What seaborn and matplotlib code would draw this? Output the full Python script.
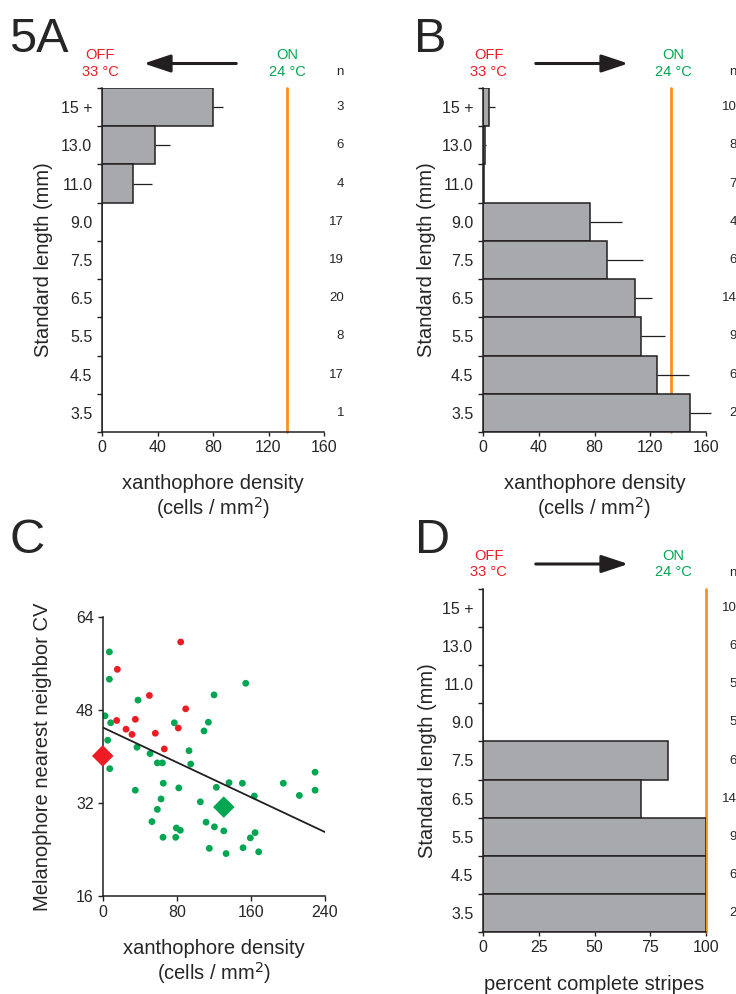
import numpy as np
import pandas as pd
import matplotlib
matplotlib.use('Agg')
import matplotlib.pyplot as plt
import seaborn as sns
from matplotlib.transforms import blended_transform_factory

sns.set_style('ticks')
plt.rcParams['font.family'] = ['Liberation Sans', 'DejaVu Sans']

W, H = 736, 994

# size classes, top to bottom
lengths = ['15 +', '13.0', '11.0', '9.0', '7.5', '6.5', '5.5', '4.5', '3.5']

# A: OFF at 33 C
a_density = [80, 38, 22, 0, 0, 0, 0, 0, 0]
a_err = [7, 11, 14, 0, 0, 0, 0, 0, 0]
a_n = [3, 6, 4, 17, 19, 20, 8, 17, 1]
a_on = 133.5

# B: OFF -> ON
b_density = [4.5, 1.5, 1, 77, 89, 109, 113.5, 125, 148.5]
b_err = [4, 1, 0, 23, 26, 12, 17, 23, 15]
b_n = [10, 8, 7, 4, 6, 14, 9, 6, 2]
b_on = 135

# D: percent complete stripes
d_pct = [0, 0, 0, 0, 83, 71, 100, 100, 100]
d_n = [10, 6, 5, 5, 6, 14, 9, 6, 2]
d_on = 100

# C: scatter
red_x = [15.8, 84.2, 50.4, 89.6, 15.1, 35.2, 25.2, 31.6, 81.6, 56.8, 66.5]
red_y = [55.0, 59.7, 50.5, 48.2, 46.2, 46.4, 44.7, 43.8, 44.9, 44.0, 41.3]
green_x = [7.2, 7.2, 154.4, 38.1, 120.2, 2.5, 8.6, 77.3, 114.1, 109.4, 5.4, 37.0,
           51.1, 93.2, 59.0, 64.4, 95.0, 7.6, 65.4, 35.2, 82.1, 122.7, 136.4, 150.8,
           195.0, 229.3, 229.3, 163.7, 212.3, 63.0, 105.4, 59.0, 53.2, 111.6, 120.6,
           130.7, 79.5, 83.8, 65.1, 78.8, 164.5, 159.4, 115.1, 151.5, 133.2, 168.4]
green_y = [58.0, 53.3, 52.6, 49.7, 50.6, 47.0, 45.8, 45.8, 45.9, 44.4, 42.8, 41.6,
           40.5, 41.0, 38.9, 38.9, 38.7, 37.9, 35.4, 34.2, 34.6, 34.7, 35.5, 35.4,
           35.4, 37.3, 34.2, 33.2, 33.3, 32.7, 32.2, 30.9, 28.8, 28.7, 27.9,
           27.2, 27.7, 27.3, 26.1, 26.1, 26.9, 26.0, 24.2, 24.3, 23.3, 23.6]
mean_x = [0, 130.7]
mean_y = [40.1, 31.3]
mean_group = ['OFF', 'ON']
fit_x = [0, 240]
fit_y = [45.0, 27.0]

GRAY = '#a7a9ac'
DARK = '#231f20'
ORANGE = '#f7941d'
RED = '#ed1c24'
GREEN = '#00a651'

TICK_FS = 11.5
LABEL_FS = 14.5


def frac(x, y):
    return x / W, 1 - y / H


def box(left, top, right, bottom):
    return [left / W, 1 - bottom / H, (right - left) / W, (bottom - top) / H]


def bar_panel(ax, values, err, n, on, xmax, xticks, xlabel, n_x):
    df = pd.DataFrame({'length': lengths, 'value': values})
    sns.barplot(data=df, x='value', y='length', order=lengths, orient='h',
                color=GRAY, saturation=1, edgecolor=DARK, linewidth=1.1,
                width=1, errorbar=None, ax=ax, zorder=2)
    if err is not None:
        ax.errorbar(values, np.arange(len(lengths)),
                    xerr=[np.zeros(len(err)), err], fmt='none',
                    ecolor=DARK, elinewidth=0.9, capsize=0, zorder=3, clip_on=False)
    ax.axvline(on, color=ORANGE, lw=2, zorder=1, clip_on=False)
    ax.set_xlim(0, xmax)
    ax.set_ylim(8.5, -0.5)
    ax.set_xticks(xticks)
    ax.set_yticks(np.arange(9))
    ax.set_yticklabels(lengths)
    ax.set_yticks(np.arange(-0.5, 9, 1), minor=True)
    ax.tick_params(axis='y', which='major', length=0, pad=7, labelsize=TICK_FS)
    ax.tick_params(axis='y', which='minor', length=3.5, width=1, color=DARK)
    ax.tick_params(axis='x', length=3, width=1, color=DARK, labelsize=TICK_FS, pad=3)
    ax.set_xlabel(xlabel, fontsize=LABEL_FS, linespacing=1.1)
    ax.set_ylabel('Standard length (mm)', fontsize=LABEL_FS)
    for s in ['top', 'right']:
        ax.spines[s].set_visible(False)
    for s in ['left', 'bottom']:
        ax.spines[s].set_color(DARK)
        ax.spines[s].set_linewidth(1.1)
    tr = blended_transform_factory(ax.transAxes, ax.transData)
    for i, v in enumerate(n):
        ax.text(n_x, i, str(v), transform=tr, ha='right', va='center', fontsize=9.5)
    ax.text(n_x, 1.047, 'n', transform=ax.transAxes, ha='right', va='center', fontsize=9.5)


def header(fig, off_x, on_x, tail_x, head_x, y):
    fig.text(*frac(off_x, y), 'OFF\n33 °C', color=RED, ha='center', va='center',
             fontsize=10.5, linespacing=1.2)
    fig.text(*frac(on_x, y), 'ON\n24 °C', color=GREEN, ha='center', va='center',
             fontsize=10.5, linespacing=1.2)
    fig.add_artist(matplotlib.patches.FancyArrowPatch(
        frac(tail_x, y), frac(head_x, y), transform=fig.transFigure,
        arrowstyle='-|>,head_length=0.9,head_width=0.3', mutation_scale=18,
        lw=2.2, color=DARK))


fig = plt.figure(figsize=(W / 100, H / 100), dpi=100)

xlab = 'xanthophore density\n(cells / mm$^2$)'

axA = fig.add_axes(box(102, 88, 324, 432))
bar_panel(axA, a_density, a_err, a_n, a_on, 160, [0, 40, 80, 120, 160], xlab, 1.09)
axA.yaxis.set_label_coords(-0.22, 0.5)
axA.xaxis.set_label_coords(0.5, -0.122)

axB = fig.add_axes(box(483, 88, 706, 432))
bar_panel(axB, b_density, b_err, b_n, b_on, 160, [0, 40, 80, 120, 160], xlab, 1.139)
axB.yaxis.set_label_coords(-0.21, 0.5)
axB.xaxis.set_label_coords(0.5, -0.122)

axD = fig.add_axes(box(483, 589, 706, 932))
bar_panel(axD, d_pct, None, d_n, d_on, 100, [0, 25, 50, 75, 100],
          'percent complete stripes', 1.139)
axD.yaxis.set_label_coords(-0.205, 0.5)
axD.xaxis.set_label_coords(0.5, -0.125)

# C scatter
axC = fig.add_axes(box(102.7, 617, 325, 896))
pts = pd.DataFrame({
    'x': red_x + green_x,
    'y': red_y + green_y,
    'group': ['OFF'] * len(red_x) + ['ON'] * len(green_x),
})
sns.scatterplot(data=pts, x='x', y='y', hue='group', palette={'OFF': RED, 'ON': GREEN},
                s=24, linewidth=0, legend=False, ax=axC, zorder=2)
axC.plot(fit_x, fit_y, color=DARK, lw=1.3, zorder=3)
means = pd.DataFrame({'x': mean_x, 'y': mean_y, 'group': mean_group})
sns.scatterplot(data=means, x='x', y='y', hue='group', palette={'OFF': RED, 'ON': GREEN},
                marker='D', s=120, linewidth=0, legend=False, ax=axC, zorder=4, clip_on=False)
axC.set_xlim(0, 240)
axC.set_ylim(16, 64)
axC.set_xticks([0, 80, 160, 240])
axC.set_yticks([16, 32, 48, 64])
axC.tick_params(length=3.5, width=1, color=DARK, labelsize=TICK_FS, pad=3)
for s in ['top', 'right']:
    axC.spines[s].set_visible(False)
for s in ['left', 'bottom']:
    axC.spines[s].set_color(DARK)
    axC.spines[s].set_linewidth(1.1)
axC.set_xlabel(xlab, fontsize=LABEL_FS, linespacing=1.1)
axC.set_ylabel('Melanophore nearest neighbor CV', fontsize=LABEL_FS)
axC.yaxis.set_label_coords(-0.228, 0.5)
axC.xaxis.set_label_coords(0.5, -0.155)

header(fig, 100, 287, 239, 141, 63.5)
header(fig, 488.7, 673, 533, 631, 63.5)
header(fig, 488.7, 673, 533, 631, 564)

fig.text(*frac(9, 52), '5A', fontsize=35, va='baseline', ha='left')
fig.text(*frac(414, 52), 'B', fontsize=35, va='baseline', ha='left')
fig.text(*frac(9, 553), 'C', fontsize=35, va='baseline', ha='left')
fig.text(*frac(415, 553), 'D', fontsize=35, va='baseline', ha='left')

fig.savefig('out.png', dpi=100)
